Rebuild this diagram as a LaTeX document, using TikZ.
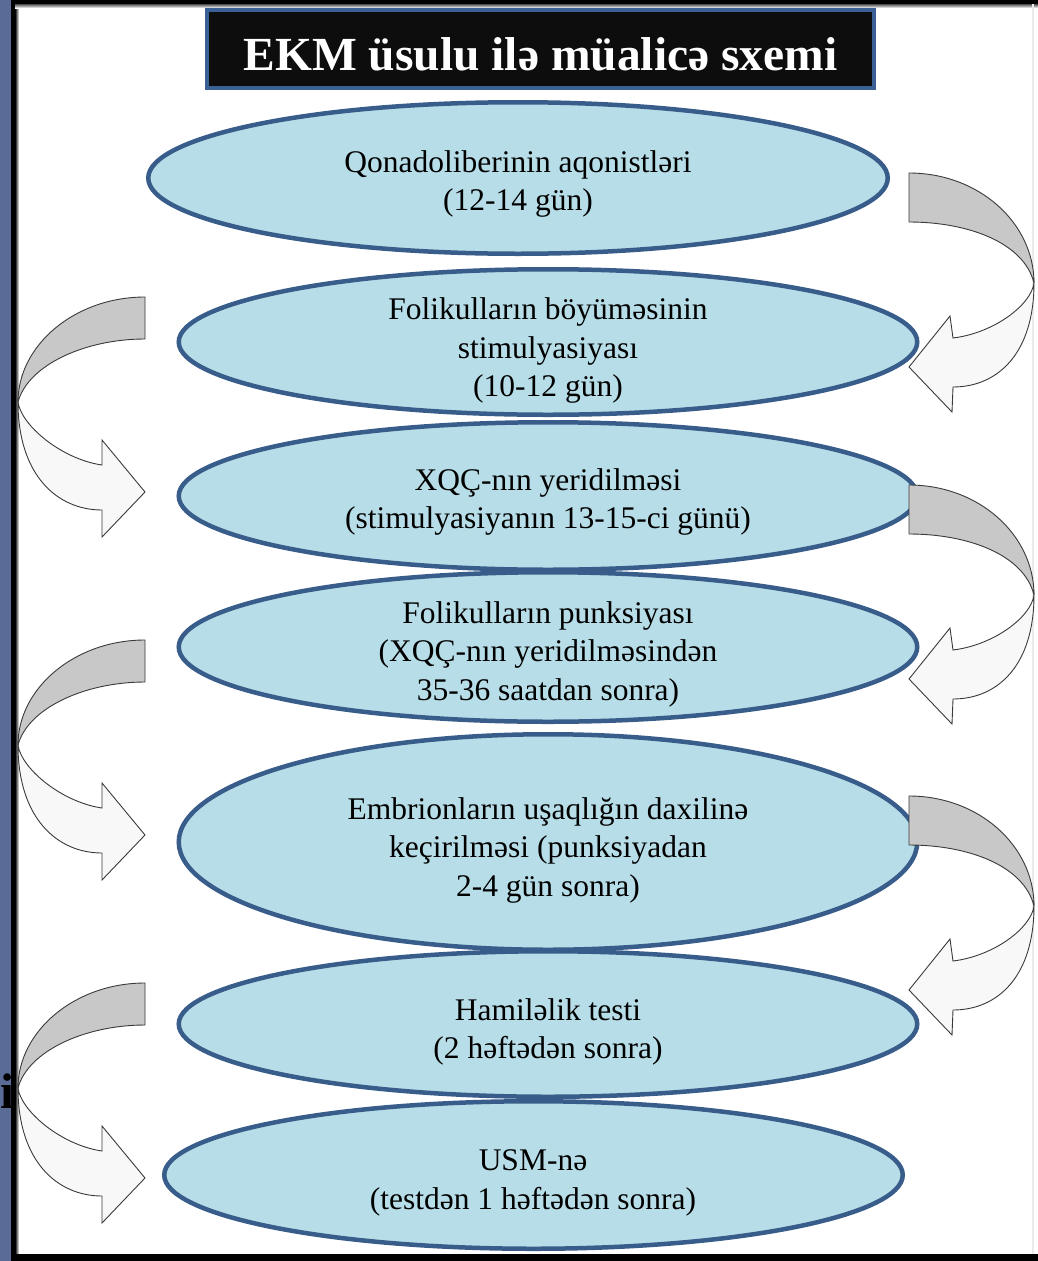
\documentclass[tikz,border=0pt]{standalone}
\usepackage{fontspec}
\setmainfont{Liberation Serif}
\usetikzlibrary{shapes.geometric}
\definecolor{stripblue}{HTML}{5B6B98}
\definecolor{ellfill}{HTML}{B7DEE8}
\definecolor{elldraw}{HTML}{385D8A}
\definecolor{titlefill}{HTML}{0D0D0D}
\definecolor{titledraw}{HTML}{3A6096}
\definecolor{arrgray}{HTML}{C8C8C8}
\definecolor{arrlight}{HTML}{F8F8F8}
\definecolor{arrline}{HTML}{3A3A3A}
\tikzset{
  stage/.style={ellipse, draw=elldraw, line width=4.5pt, fill=ellfill, inner sep=0pt},
  stagetext/.style={align=center, font=\fontsize{31.5}{38.5}\selectfont, inner sep=0pt},
  titlebox/.style={rectangle, draw=titledraw, line width=4pt, fill=titlefill, text=white,
    minimum width=667pt, minimum height=78pt, inner sep=0pt,
    text height=42pt, text depth=0pt, font=\fontsize{47.5}{50}\selectfont\bfseries},
  arrback/.style={fill=arrgray, draw=arrline, line width=0.9pt, line join=round},
  arrfront/.style={fill=arrlight, draw=arrline, line width=0.9pt, line join=miter},
  rarrow/.pic={
    \filldraw[arrback] (0,0) .. controls (70,0) and (125,50) .. (125,110)
      .. controls (115,70) and (60,49) .. (0,49) -- cycle;
    \filldraw[arrfront] (125,110) .. controls (125,180) and (89,214) .. (44,214)
      -- (43,239) -- (0,194) -- (41,143) -- (44,165)
      .. controls (85,160) and (122,132) .. cycle;
  },
  larrow/.pic={
    \filldraw[arrback] (0,0) .. controls (-70,0) and (-127,48) .. (-127,105)
      .. controls (-117,68) and (-60,42) .. (0,42) -- cycle;
    \filldraw[arrfront] (-127,105) .. controls (-127,178) and (-88,213) .. (-43,213)
      -- (-43,240) -- (0,195) -- (-43,143) -- (-43,168)
      .. controls (-84,162) and (-124,128) .. cycle;
  }
}
\begin{document}
\begin{tikzpicture}[x=1pt,y=-1pt]
\useasboundingbox (0,0) rectangle (1038,1261);
% background
\fill[white] (0,0) rectangle (1038,1261);
\fill[stripblue] (0,0) rectangle (11,1261);
\shade[left color=black, right color=white] (15,4) rectangle (19,1254);
\shade[top color=black!70, bottom color=white] (11,4) rectangle (1038,8);
\fill[black] (11,0) rectangle (15,1261);
\fill[black] (11,0) rectangle (1038,4);
\fill[black] (11,1254) rectangle (1038,1261);
\fill[black!8] (1032,4) rectangle (1034,1254);
\node[anchor=base west, inner sep=0pt, font=\fontsize{50}{50}\selectfont\bfseries] (frag) at (0.5,1108) {i};

% title
\node[titlebox] (title) at (540.5,49) {EKM üsulu ilə müalicə sxemi};

% stages
\node[stage, minimum width=739.5pt, minimum height=151.5pt] (e1) at (518,178) {};
\node[stage, minimum width=738.5pt, minimum height=145.5pt] (e2) at (548,342) {};
\node[stage, minimum width=738.5pt, minimum height=147.5pt] (e3) at (548,496) {};
\node[stage, minimum width=738.5pt, minimum height=149.5pt] (e4) at (548,647) {};
\node[stage, minimum width=738.5pt, minimum height=215.5pt] (e5) at (548,842) {};
\node[stage, minimum width=738.5pt, minimum height=145.5pt] (e6) at (548,1024) {};
\node[stage, minimum width=738.5pt, minimum height=147.5pt] (e7) at (533.5,1175) {};

\node[stagetext] (t1) at (518,184) {Qonadoliberinin aqonistləri\\(12-14 gün)};
\node[stagetext] (t2) at (548,350.5) {Folikulların böyüməsinin\\stimulyasiyası\\(10-12 gün)};
\node[stagetext] (t3) at (548,502) {XQÇ-nın yeridilməsi\\(stimulyasiyanın 13-15-ci günü)};
\node[stagetext] (t4) at (548,654) {Folikulların punksiyası\\(XQÇ-nın yeridilməsindən\\35-36 saatdan sonra)};
\node[stagetext] (t5) at (548,850) {Embrionların uşaqlığın daxilinə\\keçirilməsi (punksiyadan\\2-4 gün sonra)};
\node[stagetext] (t6) at (548,1032) {Hamiləlik testi\\(2 həftədən sonra)};
\node[stagetext] (t7) at (533,1183) {USM-nə\\(testdən 1 həftədən sonra)};

% curved arrows
\pic at (909,173) {rarrow};
\pic at (909,485) {rarrow};
\pic at (909,796) {rarrow};
\pic at (145,297) {larrow};
\pic at (145,640) {larrow};
\pic at (145,983) {larrow};
\end{tikzpicture}
\end{document}
